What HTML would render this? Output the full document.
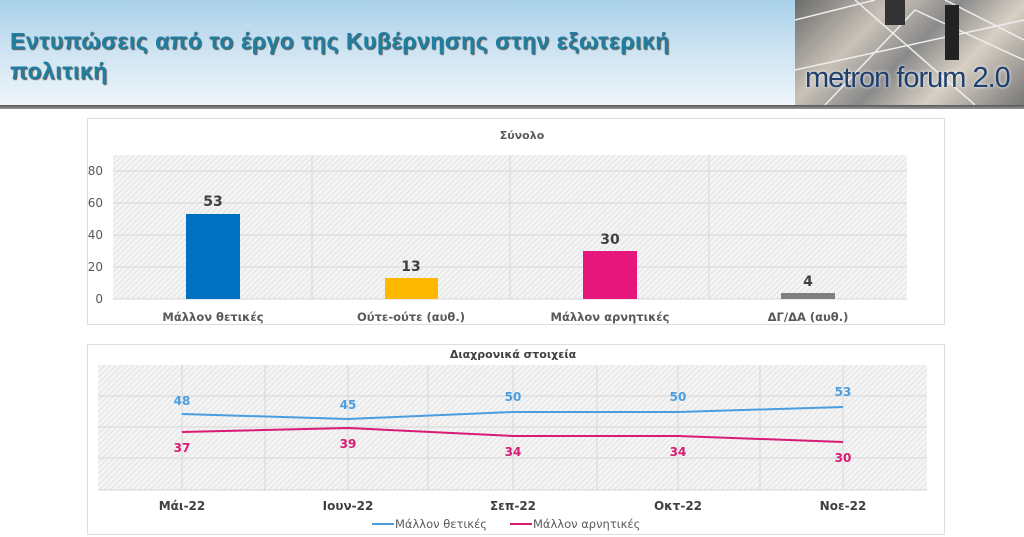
<!DOCTYPE html>
<html><head><meta charset="utf-8"><style>
body{margin:0;width:1024px;height:537px;overflow:hidden;background:#fff;font-family:"DejaVu Sans","Liberation Sans",sans-serif;position:relative}
.hdr{position:absolute;left:0;top:0;width:1024px;height:105px;background:linear-gradient(180deg,#a9d0ea 0%,#cfe4f2 50%,#eef5fa 100%)}
.bar{position:absolute;left:0;top:105px;width:1024px;height:4px;background:linear-gradient(#555,#999)}
.title{position:absolute;left:10px;top:26px;font-size:23px;font-weight:bold;color:#1e7fa0;line-height:30px;text-shadow:1px 1px 1px #555;font-family:"Liberation Sans",sans-serif;letter-spacing:0.5px}
.img{position:absolute;left:795px;top:0;width:229px;height:105px;background:linear-gradient(135deg,#6b6b6b,#c9c2b8 30%,#8a8a8a 50%,#d8d0c4 70%,#777);overflow:hidden}
.img span{position:absolute;left:10px;top:62px;font-size:29px;color:#1f3f6f;font-family:"Liberation Sans",sans-serif;text-shadow:0 0 3px #fff;white-space:nowrap;letter-spacing:-1px}
</style></head><body>
<div class="hdr"></div><div class="bar"></div>
<div class="title">Εντυπώσεις από το έργο της Κυβέρνησης στην εξωτερική<br>πολιτική</div>
<div class="img"><svg width="229" height="105" style="position:absolute;left:0;top:0"><path d="M0 20 L80 0 M30 105 L120 10 L229 60 M60 0 L180 105 M150 0 L229 40 M0 70 L229 20" stroke="#eee" stroke-width="1.5" fill="none"/><rect x="150" y="5" width="14" height="55" fill="#222"/><rect x="90" y="0" width="20" height="25" fill="#333"/></svg><span>metron forum 2.0</span></div>
<svg width="1024" height="537" style="position:absolute;left:0;top:0">
<defs><pattern id="h" width="4" height="4" patternUnits="userSpaceOnUse" patternTransform="rotate(45)"><rect width="4" height="4" fill="#f4f4f4"/><line x1="0" y1="0" x2="0" y2="4" stroke="#dcdcdc" stroke-width="1.4"/></pattern></defs>
<g font-family="DejaVu Sans,Liberation Sans,sans-serif">
<rect x="87.5" y="118.5" width="857" height="206" fill="#fff" stroke="#ddd"/>
<text x="522" y="139" font-size="11" font-weight="bold" fill="#595959" text-anchor="middle">Σύνολο</text>
<rect x="113" y="155" width="794" height="144" fill="url(#h)"/>
<g stroke="#d6d6d6"><line x1="113" x2="907" y1="171" y2="171"/><line x1="113" x2="907" y1="203" y2="203"/><line x1="113" x2="907" y1="235" y2="235"/><line x1="113" x2="907" y1="267" y2="267"/><line x1="113" x2="907" y1="299" y2="299"/><line x1="312" x2="312" y1="155" y2="299"/><line x1="510" x2="510" y1="155" y2="299"/><line x1="709" x2="709" y1="155" y2="299"/></g>
<g font-size="12" fill="#595959" text-anchor="end"><text x="103" y="175">80</text><text x="103" y="207">60</text><text x="103" y="239">40</text><text x="103" y="271">20</text><text x="103" y="303">0</text></g>
<rect x="186" y="214" width="54" height="85" fill="#0070c0"/>
<rect x="385" y="278" width="53" height="21" fill="#ffb800"/>
<rect x="583" y="251" width="54" height="48" fill="#e5177c"/>
<rect x="781" y="293" width="54" height="6" fill="#7f7f7f"/>
<g font-size="14" font-weight="bold" fill="#404040" text-anchor="middle"><text x="213" y="206">53</text><text x="411" y="271">13</text><text x="610" y="244">30</text><text x="808" y="286">4</text></g>
<g font-size="11.5" font-weight="bold" fill="#595959" text-anchor="middle"><text x="213" y="321">Μάλλον θετικές</text><text x="411" y="321">Ούτε-ούτε (αυθ.)</text><text x="610" y="321">Μάλλον αρνητικές</text><text x="808" y="321">ΔΓ/ΔΑ (αυθ.)</text></g>

<rect x="87.5" y="344.5" width="857" height="190" fill="#fff" stroke="#ddd"/>
<text x="513" y="358" font-size="11" font-weight="bold" fill="#404040" text-anchor="middle">Διαχρονικά στοιχεία</text>
<rect x="98" y="365" width="829" height="125" fill="url(#h)"/>
<g stroke="#d6d6d6"><line x1="98" x2="927" y1="396" y2="396"/><line x1="98" x2="927" y1="427" y2="427"/><line x1="98" x2="927" y1="458" y2="458"/><line x1="98" x2="927" y1="490" y2="490"/><line x1="265" x2="265" y1="365" y2="490"/><line x1="428" x2="428" y1="365" y2="490"/><line x1="597" x2="597" y1="365" y2="490"/><line x1="760" x2="760" y1="365" y2="490"/><line x1="182" x2="182" y1="365" y2="490"/><line x1="348" x2="348" y1="365" y2="490"/><line x1="513" x2="513" y1="365" y2="490"/><line x1="678" x2="678" y1="365" y2="490"/><line x1="843" x2="843" y1="365" y2="490"/></g>
<polyline points="182,414 348,419 513,412 678,412 843,407" fill="none" stroke="#4a9ee0" stroke-width="2"/>
<polyline points="182,432 348,428 513,436 678,436 843,442" fill="none" stroke="#d81b75" stroke-width="2"/>
<g font-size="12" font-weight="bold" fill="#4a9ee0" text-anchor="middle"><text x="182" y="405">48</text><text x="348" y="409">45</text><text x="513" y="401">50</text><text x="678" y="401">50</text><text x="843" y="396">53</text></g>
<g font-size="12" font-weight="bold" fill="#d81b75" text-anchor="middle"><text x="182" y="452">37</text><text x="348" y="448">39</text><text x="513" y="456">34</text><text x="678" y="456">34</text><text x="843" y="462">30</text></g>
<g font-size="12" font-weight="bold" fill="#404040" text-anchor="middle"><text x="182" y="510">Μάι-22</text><text x="348" y="510">Ιουν-22</text><text x="513" y="510">Σεπ-22</text><text x="678" y="510">Οκτ-22</text><text x="843" y="510">Νοε-22</text></g>
<line x1="372" x2="394" y1="524" y2="524" stroke="#4a9ee0" stroke-width="2"/>
<text x="395" y="528" font-size="11.5" fill="#595959">Μάλλον θετικές</text>
<line x1="510" x2="532" y1="524" y2="524" stroke="#d81b75" stroke-width="2"/>
<text x="533" y="528" font-size="11.5" fill="#595959">Μάλλον αρνητικές</text>
</g></svg>
</body></html>
